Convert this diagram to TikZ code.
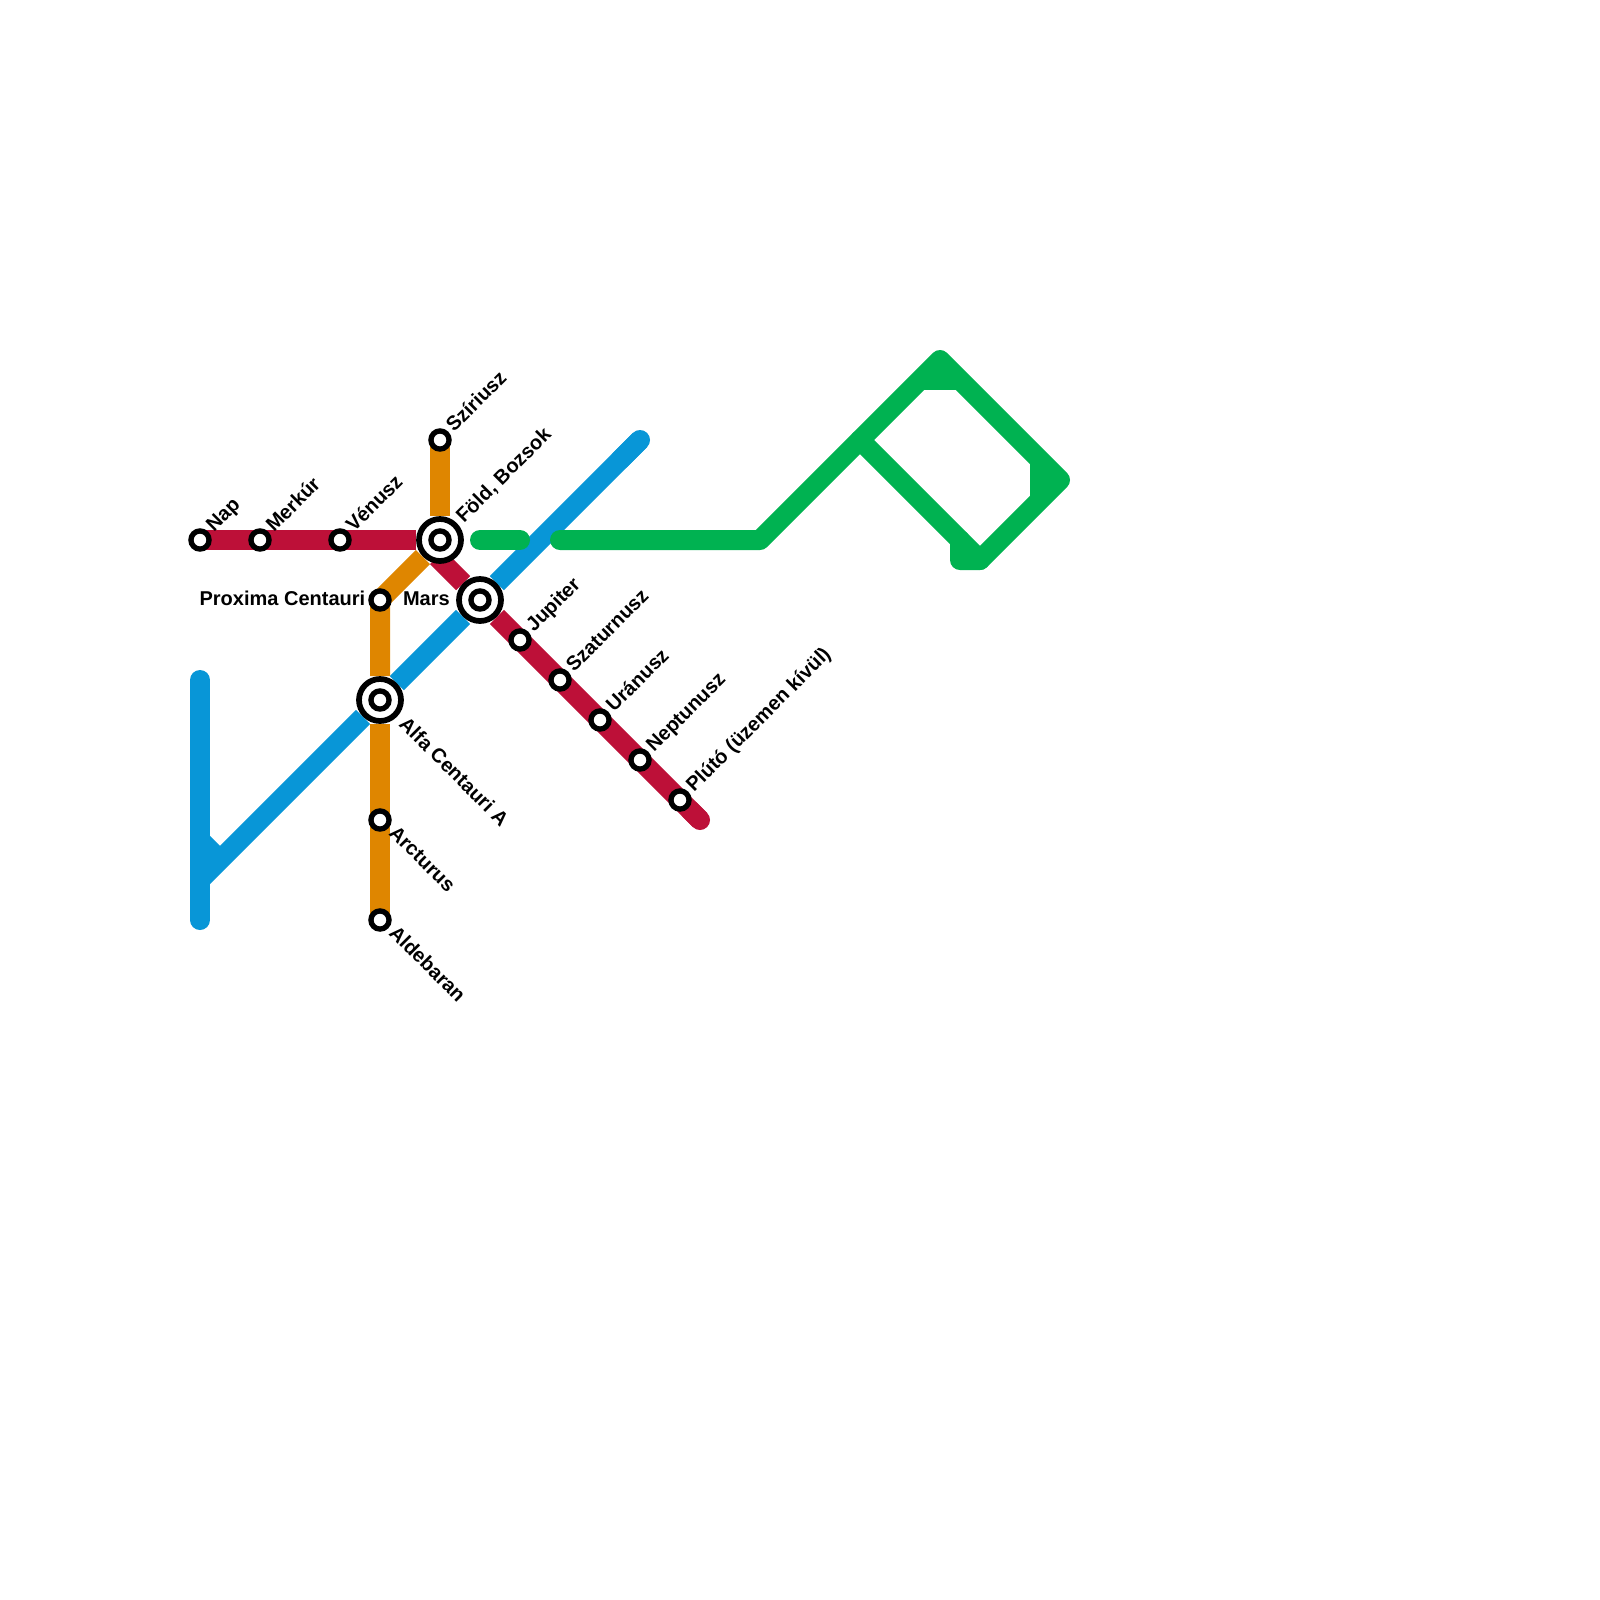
\documentclass[tikz,border=0pt]{standalone}
\usepackage{fontspec}
\setmainfont{Liberation Sans}
\usetikzlibrary{backgrounds}
\definecolor{lineblue}{HTML}{0896D7}
\definecolor{linered}{HTML}{BD1038}
\definecolor{lineorange}{HTML}{DF8600}
\definecolor{linegreen}{HTML}{00B251}
\tikzset{
  metro/.style={line width=15pt,line cap=butt,line join=round},
  roundend/.style={line cap=round},
  stop/.style={circle,draw=black,fill=white,line width=4pt,minimum size=13.6pt,inner sep=0pt},
  hub/.style={circle,draw=black,fill=white,line width=4.3pt,minimum size=31.5pt,inner sep=0pt},
  lab/.style={font=\fontsize{15pt}{15pt}\selectfont\bfseries,inner sep=0pt,text=black},
  labup/.style={lab,rotate=45,anchor=base west},
  labdown/.style={lab,rotate=-45,anchor=base west},
  lableft/.style={lab,anchor=base east}
}
\begin{document}
\begin{tikzpicture}[x=0.75pt,y=-0.75pt]
\useasboundingbox (0,0) rectangle (1600,1600);
% free points of the lines
\coordinate (bluetop) at (200,680);
\coordinate (bluebot) at (200,920);
\coordinate (bluefork) at (200,880);
\coordinate (stubA) at (200,840);
\coordinate (stubB) at (220,860);
\coordinate (blueend) at (640,440);
\coordinate (blueendin) at (620,460);
\coordinate (redstart) at (437,557);
\coordinate (redend) at (700,820);
\coordinate (redendin) at (690,810);
\coordinate (oraA) at (423,557);
\coordinate (gA) at (480,540);
\coordinate (gB) at (520,540);
\coordinate (gC) at (560,540);
\coordinate (gD) at (760,540);
\coordinate (gE) at (940,360);
\coordinate (gF) at (1060,480);
\coordinate (gG) at (980,560);
\coordinate (gH) at (960,560);
\coordinate (gI) at (960,540);
\coordinate (gJ) at (860,440);
\coordinate (gK) at (920,380);
\coordinate (gL) at (960,380);
\coordinate (gM) at (1040,460);
\coordinate (gN) at (1040,500);
% stations
\node[stop] (nap) at (200,540) {};
\node[stop] (merkur) at (260,540) {};
\node[stop] (venusz) at (340,540) {};
\node[hub] (fold) at (440,540) {};
\node[stop] (foldc) at (440,540) {};
\node[hub] (mars) at (480,600) {};
\node[stop] (marsc) at (480,600) {};
\node[stop] (jupiter) at (520,640) {};
\node[stop] (szaturnusz) at (560,680) {};
\node[stop] (uranusz) at (600,720) {};
\node[stop] (neptunusz) at (640,760) {};
\node[stop] (pluto) at (680,800) {};
\node[stop] (sziriusz) at (440,440) {};
\node[stop] (proxima) at (380,600) {};
\node[hub] (alfa) at (380,700) {};
\node[stop] (alfac) at (380,700) {};
\node[stop] (arcturus) at (380,820) {};
\node[stop] (aldebaran) at (380,920) {};
% lines
\begin{scope}[on background layer]
\draw[metro,lineblue,roundend] (bluetop) -- (bluebot);
\draw[metro,lineblue] (bluefork) -- (alfa);
\draw[metro,lineblue] (alfa) -- (mars);
\draw[metro,lineblue] (mars) -- (blueend);
\draw[metro,lineblue,roundend] (blueendin) -- (blueend);
\draw[metro,lineblue] (stubA) -- (stubB);
\draw[metro,linegreen,roundend] (gA) -- (gB);
\draw[metro,linegreen,roundend] (gC) -- (gD) -- (gE) -- (gF) -- (gG) -- (gH) -- (gI);
\draw[metro,linegreen,roundend] (gJ) -- (gG);
\draw[metro,linegreen] (gK) -- (gL);
\draw[metro,linegreen] (gM) -- (gN);
\draw[metro,lineorange] (sziriusz.center) -- (fold);
\draw[metro,lineorange] (oraA) -- (proxima.center) -- (alfa);
\draw[metro,lineorange] (alfa) -- (aldebaran.center);
\draw[metro,linered] (nap.center) -- (fold);
\draw[metro,linered] (redstart) -- (mars);
\draw[metro,linered] (mars) -- (redend);
\draw[metro,linered,roundend] (redendin) -- (redend);
\end{scope}
% labels
\node[labup] (lnap) at (214,533) {Nap};
\node[labup] (lmerkur) at (274,533) {Merkúr};
\node[labup] (lvenusz) at (354,533) {Vénusz};
\node[labup] (lsziriusz) at (454,433) {Szíriusz};
\node[labup] (lfold) at (464,524) {Föld, Bozsok};
\node[labup] (ljupiter) at (534,633) {Jupiter};
\node[labup] (lszat) at (574,673) {Szaturnusz};
\node[labup] (luran) at (614,713) {Uránusz};
\node[labup] (lnept) at (654,753) {Neptunusz};
\node[labup] (lpluto) at (694,793) {Plútó (üzemen kívül)};
\node[lableft] (lprox) at (365.5,605) {Proxima Centauri};
\node[lableft] (lmars) at (450,605) {Mars};
\node[labdown] (lalfa) at (398,725) {Alfa Centauri A};
\node[labdown] (larc) at (388,834) {Arcturus};
\node[labdown] (lald) at (388,934) {Aldebaran};
\end{tikzpicture}
\end{document}
